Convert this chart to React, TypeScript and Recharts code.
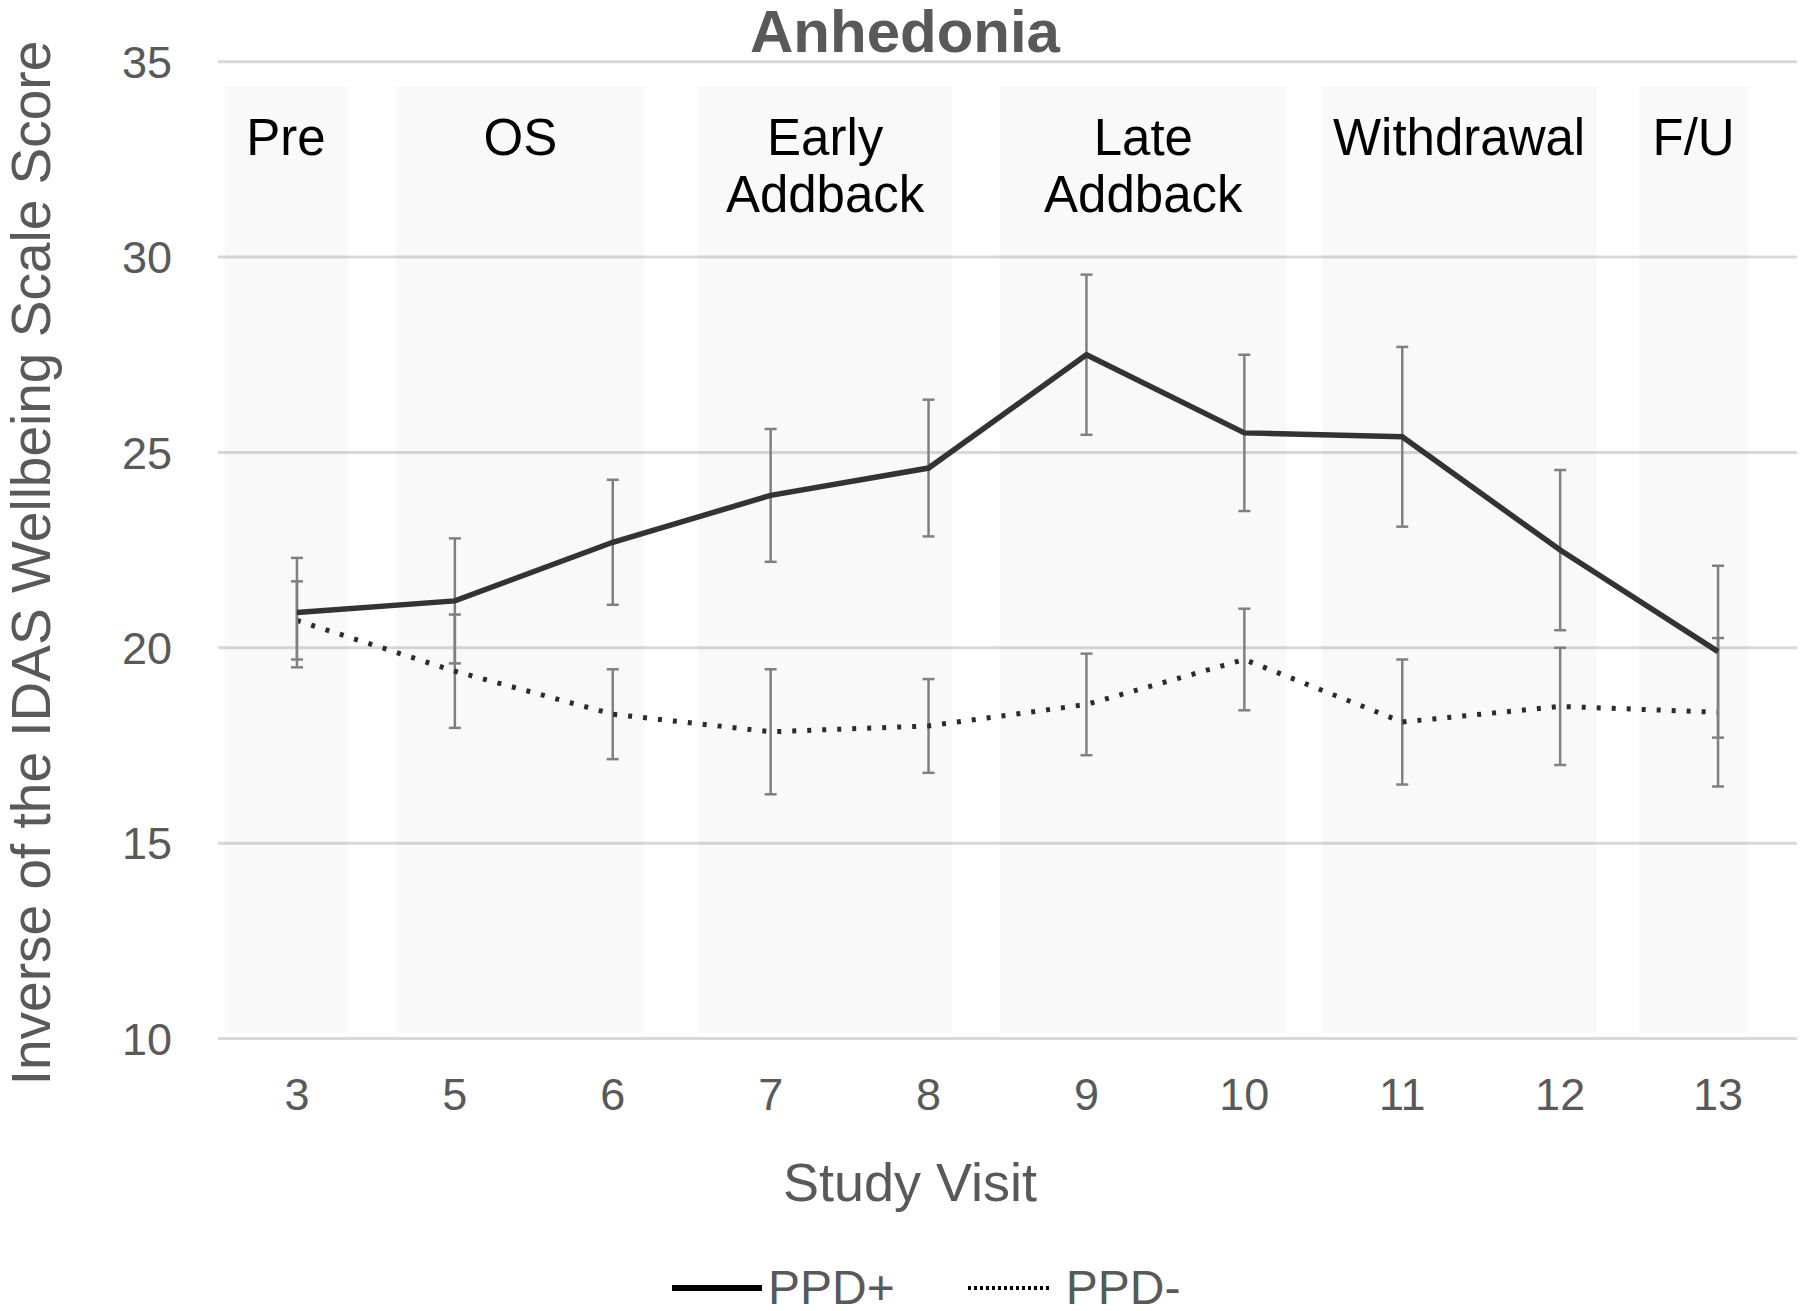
import React from 'react';
import { ComposedChart, Line, XAxis, YAxis, CartesianGrid, ReferenceArea, ErrorBar } from 'recharts';

const visits = ['3', '5', '6', '7', '8', '9', '10', '11', '12', '13'];
const ppdPlus = [20.9, 21.2, 22.7, 23.9, 24.6, 27.5, 25.5, 25.4, 22.5, 19.9];
const ppdPlusErr = [1.4, 1.6, 1.6, 1.7, 1.75, 2.05, 2.0, 2.3, 2.05, 2.2];
const ppdMinus = [20.7, 19.4, 18.3, 17.85, 18.0, 18.55, 19.7, 18.1, 18.5, 18.35];
const ppdMinusErr = [1.0, 1.45, 1.15, 1.6, 1.2, 1.3, 1.3, 1.6, 1.5, 1.9];

const phaseNames = [['Pre'], ['OS'], ['Early', 'Addback'], ['Late', 'Addback'], ['Withdrawal'], ['F/U']];
const phaseStart = [0.04, 1.13, 3.04, 4.95, 6.99, 9.0];
const phaseEnd = [0.82, 2.7, 4.65, 6.77, 8.73, 9.69];
const phaseTop = 34.38;
const phaseBottom = 10.14;

const yTicks = [10, 15, 20, 25, 30, 35];

const data = visits.map((v, i) => ({
  visit: v,
  pos: i + 0.5,
  plus: ppdPlus[i],
  plusErr: ppdPlusErr[i],
  minus: ppdMinus[i],
  minusErr: ppdMinusErr[i],
}));

const FONT = '"Liberation Sans", Arial, Helvetica, sans-serif';
const GRAY = '#595959';

const YTick = (props: any) => {
  const { x, y, payload } = props;
  return (
    <text x={x} y={y} dy="0.36em" textAnchor="end" fill={GRAY} fontSize={45} fontFamily={FONT}>
      {payload.value}
    </text>
  );
};

const XTick = (props: any) => {
  const { x, y, payload } = props;
  return (
    <text x={x} y={y} dy="0.71em" textAnchor="middle" fill={GRAY} fontSize={45} fontFamily={FONT}>
      {payload.value}
    </text>
  );
};

const makePhaseLabel = (lines: string[]) => (props: any) => {
  const vb = props.viewBox || {};
  const cx = vb.x + vb.width / 2;
  const top = vb.y;
  return (
    <text textAnchor="middle" fill="#000" fontSize={51} fontFamily={FONT}>
      {lines.map((l, i) => (
        <tspan key={i} x={cx} y={top + 51 + i * 57} dy="0.36em">
          {l}
        </tspan>
      ))}
    </text>
  );
};

export default function App() {
  return (
    <div style={{ position: 'absolute', left: 0, top: 0, width: 1800, height: 1311, background: '#fff' }}>
      <ComposedChart
        width={1800}
        height={1311}
        data={data}
        margin={{ top: 61.7, right: 3, bottom: 212.5, left: 0 }}
      >
        <CartesianGrid vertical={false} stroke="#d9d9d9" strokeWidth={3} />
        <XAxis
          dataKey="visit"
          type="category"
          scale="band"
          axisLine={false}
          tickLine={false}
          height={60}
          tick={<XTick />}
          tickMargin={34}
          interval={0}
        />
        <XAxis
          xAxisId="phase"
          dataKey="pos"
          type="number"
          domain={[0, 10]}
          allowDataOverflow
          hide
        />
        <YAxis
          type="number"
          domain={[10, 35]}
          ticks={yTicks}
          axisLine={false}
          tickLine={false}
          width={218}
          tick={<YTick />}
          tickMargin={40}
          interval={0}
        />
        {phaseNames.map((lines, i) => (
          <ReferenceArea
            key={i}
            xAxisId="phase"
            x1={phaseStart[i]}
            x2={phaseEnd[i]}
            y1={phaseBottom}
            y2={phaseTop}
            fill="#000"
            fillOpacity={0.024}
            stroke="none"
            label={makePhaseLabel(lines)}
          />
        ))}
        <Line
          dataKey="minus"
          stroke="#2b2b2b"
          strokeWidth={5}
          strokeDasharray="4 11"
          dot={false}
          isAnimationActive={false}
        >
          <ErrorBar dataKey="minusErr" width={6} stroke="#808080" strokeWidth={2.5} direction="y" />
        </Line>
        <Line dataKey="plus" stroke="#333" strokeWidth={5.5} dot={false} isAnimationActive={false}>
          <ErrorBar dataKey="plusErr" width={6} stroke="#808080" strokeWidth={2.5} direction="y" />
        </Line>
      </ComposedChart>

      <div
        style={{
          position: 'absolute',
          left: 0,
          width: 1810,
          top: 2,
          textAlign: 'center',
          fontFamily: FONT,
          fontWeight: 'bold',
          fontSize: 60,
          color: GRAY,
          lineHeight: '60px',
        }}
      >
        Anhedonia
      </div>

      <div
        style={{
          position: 'absolute',
          left: 0,
          width: 1820,
          top: 1150,
          textAlign: 'center',
          fontFamily: FONT,
          fontSize: 54,
          color: GRAY,
          lineHeight: '64px',
        }}
      >
        Study Visit
      </div>

      <div
        style={{
          position: 'absolute',
          left: 31 - 600,
          top: 563 - 32,
          width: 1200,
          height: 64,
          lineHeight: '64px',
          textAlign: 'center',
          transform: 'rotate(-90deg)',
          fontFamily: FONT,
          fontSize: 55,
          color: GRAY,
          whiteSpace: 'nowrap',
        }}
      >
        Inverse of the IDAS Wellbeing Scale Score
      </div>

      <div
        style={{
          position: 'absolute',
          left: 672,
          top: 1266,
          height: 44,
          lineHeight: '44px',
          display: 'flex',
          alignItems: 'center',
          fontFamily: FONT,
          fontSize: 48,
          color: GRAY,
          whiteSpace: 'nowrap',
        }}
      >
        <svg width={90} height={10} style={{ marginRight: 6 }}>
          <line x1={0} y1={5} x2={90} y2={5} stroke="#000" strokeWidth={6} />
        </svg>
        <span>PPD+</span>
        <svg width={84} height={10} style={{ marginLeft: 73, marginRight: 14 }}>
          <line x1={0} y1={5} x2={84} y2={5} stroke="#000" strokeWidth={4} strokeDasharray="3 3" />
        </svg>
        <span>PPD-</span>
      </div>
    </div>
  );
}
